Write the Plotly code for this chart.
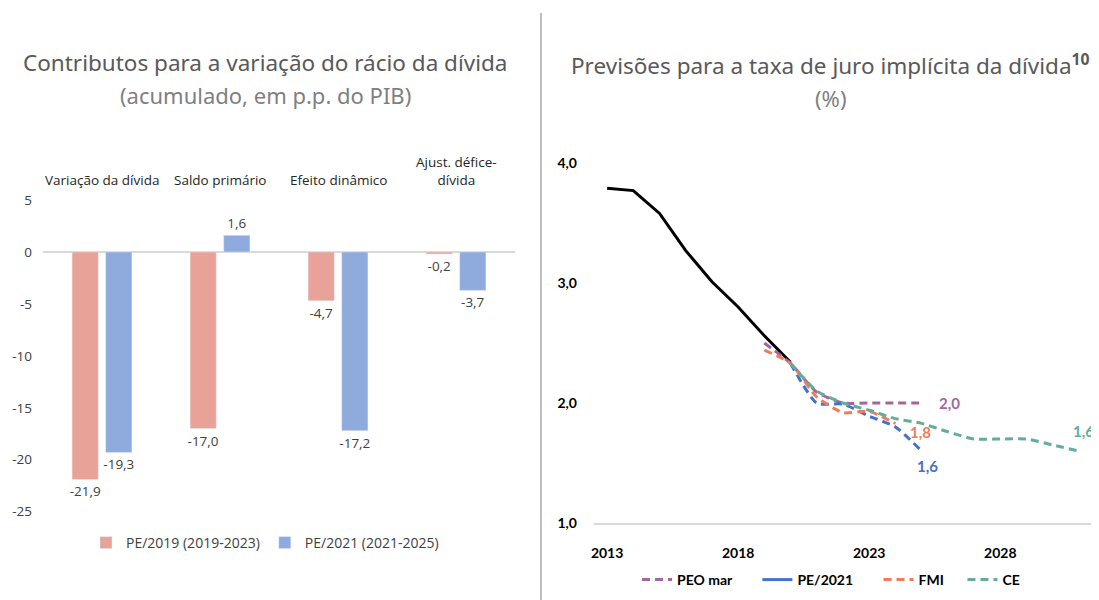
import plotly.graph_objects as go

# ---------- Left chart data ----------
categories = ["Variação da dívida", "Saldo primário", "Efeito dinâmico", "Ajust. défice-<br>dívida"]
pe2019_values = [-21.9, -17.0, -4.7, -0.2]
pe2021_values = [-19.3, 1.6, -17.2, -3.7]
left_ticks = [5, 0, -5, -10, -15, -20, -25]

# ---------- Right chart data ----------
hist_years = [2013, 2014, 2015, 2016, 2017, 2018, 2019, 2020]
hist_values = [3.79, 3.77, 3.58, 3.27, 3.01, 2.80, 2.56, 2.34]

peo_years = [2019, 2020, 2021, 2022, 2023, 2024, 2025]
peo_values = [2.50, 2.33, 2.09, 2.00, 2.00, 2.00, 2.00]

pe21_years = [2020, 2021, 2022, 2023, 2024, 2025]
pe21_values = [2.33, 2.00, 1.99, 1.89, 1.80, 1.60]

fmi_years = [2019, 2020, 2021, 2022, 2023, 2024]
fmi_values = [2.44, 2.33, 2.05, 1.92, 1.93, 1.83]

ce_years = [2020, 2021, 2022, 2023, 2024, 2025, 2026, 2027, 2028, 2029, 2030, 2031]
ce_values = [2.33, 2.10, 2.00, 1.94, 1.87, 1.83, 1.76, 1.70, 1.70, 1.70, 1.65, 1.60]

right_yticks = [1, 2, 3, 4]
right_xticks = [2013, 2018, 2023, 2028]

C_PINK = "#E8A297"
C_LBLUE = "#8FAADC"
C_PEO = "#A5659F"
C_PE21 = "#4472C4"
C_FMI = "#EE7D5B"
C_CE = "#62AD9B"

# the page body adds an 8px margin; size the figure so it fills the 1099x600 window
OX, OY = 8, 8
W, H = 1099 - OX, 600 - OY
def px(x):
    return (x - OX) / W
def py(y):
    return (H - (y - OY)) / H

NB = "\u00a0" * 6

fig = go.Figure()

# Left bars
for name, vals, col in [("PE/2019 (2019-2023)", pe2019_values, C_PINK),
                        ("PE/2021 (2021-2025)", pe2021_values, C_LBLUE)]:
    fig.add_trace(go.Bar(
        x=categories, y=vals, name=name,
        marker=dict(color=col), texttemplate="%{y:.1f}", textposition="outside",
        constraintext="none",
        textfont=dict(family="Open Sans", size=13.5, color="#404040"),
        cliponaxis=False, xaxis="x", yaxis="y", legend="legend",
    ))

# Right lines
fig.add_trace(go.Scatter(
    x=hist_years, y=hist_values, mode="lines", name="Realizado",
    line=dict(color="black", width=3), showlegend=False,
    xaxis="x2", yaxis="y2",
))
dash = "8px,5px"
fig.add_trace(go.Scatter(
    x=peo_years, y=peo_values, mode="lines", name="PEO mar" + NB,
    line=dict(color=C_PEO, width=3, dash=dash, shape="spline", smoothing=0.6),
    xaxis="x2", yaxis="y2", legend="legend2",
))
fig.add_trace(go.Scatter(
    x=pe21_years, y=pe21_values, mode="lines", name="PE/2021",
    line=dict(color=C_PE21, width=3, dash=dash, shape="spline", smoothing=0.6),
    xaxis="x2", yaxis="y2", showlegend=False,
))
fig.add_trace(go.Scatter(
    x=[None], y=[None], mode="lines", name="PE/2021" + NB,
    line=dict(color=C_PE21, width=3),
    xaxis="x2", yaxis="y2", legend="legend2",
))
fig.add_trace(go.Scatter(
    x=fmi_years, y=fmi_values, mode="lines", name="FMI" + "\u00a0" * 4,
    line=dict(color=C_FMI, width=3, dash=dash, shape="spline", smoothing=0.6),
    xaxis="x2", yaxis="y2", legend="legend2",
))
fig.add_trace(go.Scatter(
    x=ce_years, y=ce_values, mode="lines", name="CE",
    line=dict(color=C_CE, width=3, dash=dash, shape="spline", smoothing=0.6),
    xaxis="x2", yaxis="y2", legend="legend2",
))

def fmt(v):
    return f"{v:.1f}".replace(".", ",")

annotations = []
# category labels on top of left chart
for c in categories:
    annotations.append(dict(
        x=c, xref="x", y=py(191), yref="paper", yanchor="bottom", xanchor="center",
        text=c, showarrow=False,
        font=dict(family="Open Sans", size=13.5, color="#262626"),
    ))
# end labels on right chart
end_labels = [
    (peo_years, peo_values, C_PEO, 28, 0),
    (fmi_years, fmi_values, C_FMI, 25, -9),
    (pe21_years, pe21_values, C_PE21, 6, -15),
    (ce_years, ce_values, C_CE, 5, 20),
]
for xs, ys, col, dx, dy in end_labels:
    annotations.append(dict(
        x=xs[-1], y=ys[-1], xref="x2", yref="y2", text=fmt(ys[-1]),
        showarrow=False, xshift=dx, yshift=dy, xanchor="center", yanchor="middle",
        font=dict(family="Lato", size=15, color=col, weight="bold"),
    ))
# titles
annotations += [
    dict(x=px(265), y=py(62), xref="paper", yref="paper", showarrow=False,
         xanchor="center", yanchor="middle",
         text="Contributos para a variação do rácio da dívida",
         font=dict(family="Noto Sans", size=22.5, color="#595959")),
    dict(x=px(265), y=py(95), xref="paper", yref="paper", showarrow=False,
         xanchor="center", yanchor="middle",
         text="(acumulado, em p.p. do PIB)",
         font=dict(family="Noto Sans", size=22, color="#7F7F7F")),
    dict(x=px(830), y=py(65), xref="paper", yref="paper", showarrow=False,
         xanchor="center", yanchor="middle",
         text="Previsões para a taxa de juro implícita da dívida<sup><b>10</b></sup>",
         font=dict(family="Noto Sans", size=22.5, color="#595959")),
    dict(x=px(830), y=py(98), xref="paper", yref="paper", showarrow=False,
         xanchor="center", yanchor="middle",
         text="(%)",
         font=dict(family="Noto Sans", size=22, color="#7F7F7F")),
]

fig.update_layout(
    width=W, height=H,
    margin=dict(l=0, r=0, t=0, b=0, autoexpand=False),
    paper_bgcolor="white", plot_bgcolor="white",
    separators=", ",
    barmode="group", bargap=0.43, bargroupgap=0.22,
    xaxis=dict(domain=[px(43), px(515)], type="category", showticklabels=False,
               showgrid=False, zeroline=False, showline=False, fixedrange=True,
               automargin=False),
    yaxis=dict(domain=[py(511.7), py(200)], range=[-25, 5], tickvals=left_ticks,
               ticktext=[str(t) for t in left_ticks], showgrid=False,
               zeroline=True, zerolinecolor="#D9D9D9", zerolinewidth=1.5,
               showline=False, ticks="", ticklabelstandoff=10, automargin=False,
               tickfont=dict(family="Open Sans", size=13.5, color="#404040")),
    xaxis2=dict(domain=[px(594), px(1092)], range=[2012.5, 2031.5], anchor="y2",
                tickvals=right_xticks, ticktext=[str(t) for t in right_xticks],
                showgrid=False, zeroline=False, showline=True, linecolor="#D9D9D9",
                linewidth=1.5, ticks="", ticklabelstandoff=16, automargin=False,
                tickfont=dict(family="Lato", size=14, color="black", weight="bold")),
    yaxis2=dict(domain=[py(523), py(163)], range=[1, 4], anchor="x2",
                tickvals=right_yticks, ticktext=[fmt(t) for t in right_yticks],
                showgrid=False, zeroline=False, showline=False, ticks="",
                ticklabelstandoff=16, automargin=False,
                tickfont=dict(family="Lato", size=14, color="black", weight="bold")),
    legend=dict(orientation="h", x=px(265), xanchor="center", y=py(543), yanchor="middle",
                font=dict(family="Open Sans", size=14, color="#404040"),
                bgcolor="rgba(0,0,0,0)"),
    legend2=dict(orientation="h", x=px(831), xanchor="center", y=py(580), yanchor="middle",
                 font=dict(family="Lato", size=14, color="black", weight="bold"),
                 bgcolor="rgba(0,0,0,0)"),
    annotations=annotations,
    shapes=[dict(type="line", xref="paper", yref="paper", x0=px(541), x1=px(541),
                 y0=0, y1=py(13), line=dict(color="#BFBFBF", width=2))],
    showlegend=True,
)

fig.write_html("out.html")
